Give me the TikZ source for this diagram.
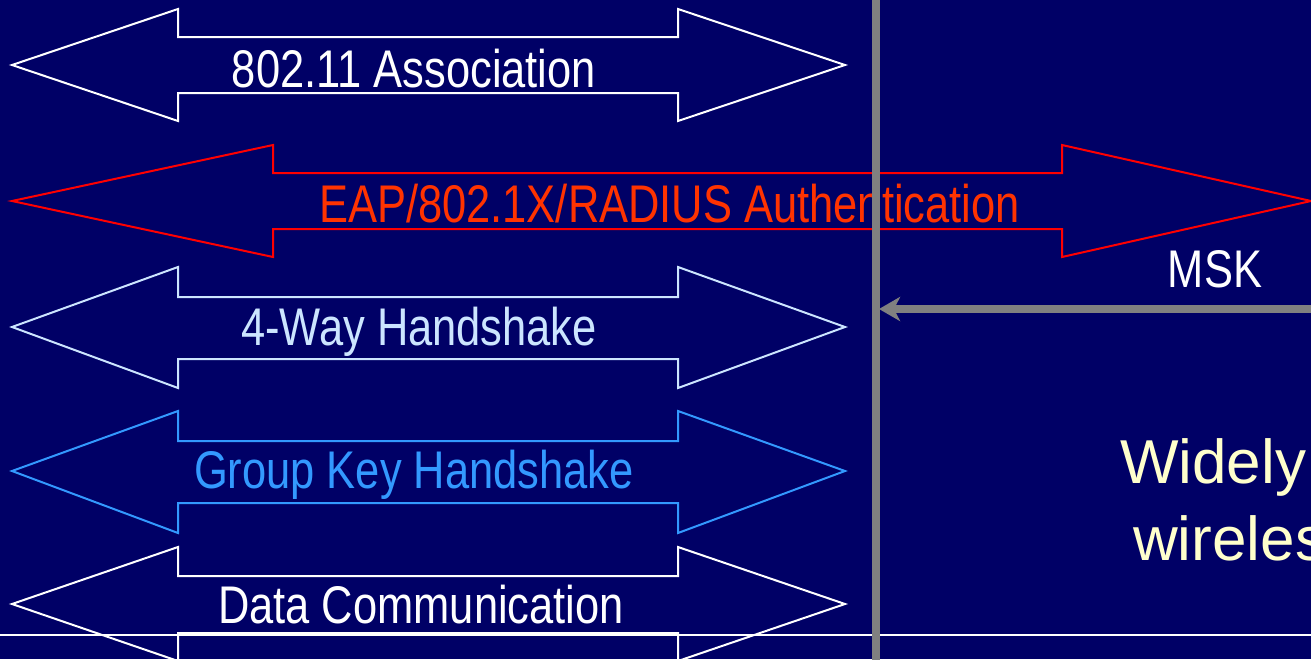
\documentclass[tikz,border=0pt]{standalone}
\usepackage{fontspec}
\setmainfont{Liberation Sans}
\newfontfamily\narrowfont[FakeStretch=0.82]{Liberation Sans}
\usetikzlibrary{arrows.meta}
\definecolor{navybg}{RGB}{0,0,102}
\definecolor{redline}{RGB}{255,0,0}
\definecolor{redtext}{RGB}{255,51,0}
\definecolor{paleblue}{RGB}{204,229,255}
\definecolor{keyblue}{RGB}{51,153,255}
\definecolor{paleyellow}{RGB}{255,255,204}
\definecolor{greyline}{RGB}{128,128,128}
\begin{document}
\begin{tikzpicture}[x=1pt,y=-1pt,
  arrowshape/.style={line width=2pt, line join=miter},
  lbl/.style={anchor=base, inner sep=0pt, font=\narrowfont\fontsize{53}{60}\selectfont},
  bigtext/.style={anchor=base west, inner sep=0pt, text=paleyellow, font=\fontsize{62}{70}\selectfont},
  greybar/.style={draw=greyline, line width=8pt}
]
\clip (0,0) rectangle (1311,659);
\fill[navybg] (0,0) rectangle (1311,659);

% separator line
\coordinate (sepL) at (0,635);
\coordinate (sepR) at (1311,635);
\draw[white, line width=2pt] (sepL) -- (sepR);

% 802.11 Association
\draw[arrowshape, white] (12,65) -- (178,9) -- (178,37) -- (678,37) -- (678,9) -- (845,65)
  -- (678,121) -- (678,93) -- (178,93) -- (178,121) -- cycle;
\node[lbl, text=white] (assoc) at (414,87) {802.11 Association};

% EAP
\draw[arrowshape, redline] (12,201) -- (273,145) -- (273,173) -- (1062,173) -- (1062,145) -- (1311,201)
  -- (1062,257) -- (1062,229) -- (273,229) -- (273,257) -- cycle;
\node[lbl, text=redtext] (eap) at (669.5,222) {EAP/802.1X/RADIUS Authentication};

% 4-Way
\draw[arrowshape, paleblue] (12,327) -- (178,267) -- (178,297) -- (678,297) -- (678,267) -- (845,327)
  -- (678,388) -- (678,359) -- (178,359) -- (178,388) -- cycle;
\node[lbl, text=paleblue] (fourway) at (419,345) {4-Way Handshake};

% Group Key
\draw[arrowshape, keyblue] (12,471) -- (178,411) -- (178,441) -- (678,441) -- (678,411) -- (845,471)
  -- (678,533) -- (678,503) -- (178,503) -- (178,533) -- cycle;
\node[lbl, text=keyblue] (group) at (414,488) {Group Key Handshake};

% Data Communication
\draw[arrowshape, white] (12,604) -- (178,547) -- (178,576) -- (678,576) -- (678,547) -- (845,604)
  -- (678,661) -- (678,633) -- (178,633) -- (178,661) -- cycle;
\node[lbl, text=white] (data) at (421,623) {Data Communication};

% MSK
\node[lbl, text=white] (msk) at (1215,287) {MSK};

% grey vertical line and MSK arrow
\coordinate (vtop) at (876,-2);
\coordinate (vbot) at (876,661);
\draw[greybar] (vtop) -- (vbot);
\coordinate (mskstart) at (1315,309);
\coordinate (mskend) at (879,309);
\draw[greybar, -{Stealth[length=21pt, width=24pt, inset=6pt]}] (mskstart) -- (mskend);

% Widely ... wireless
\node[bigtext] (widely) at (1120,483) {Widely};
\node[bigtext] (wireless) at (1133,560) {wireless};
\end{tikzpicture}
\end{document}
